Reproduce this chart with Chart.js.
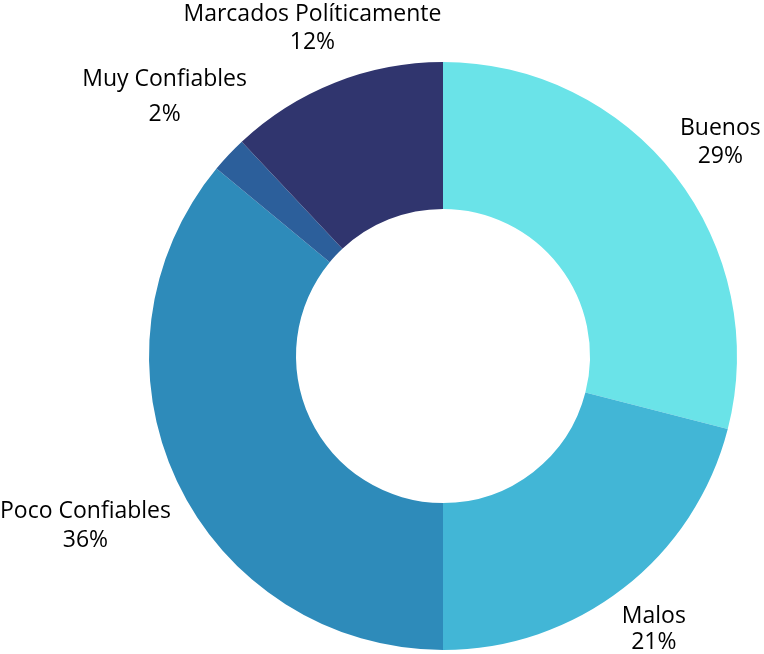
<!DOCTYPE html>
<html>
<head>
<meta charset="utf-8">
<script src="https://cdn.jsdelivr.net/npm/chart.js@4/dist/chart.umd.min.js"></script>
<style>
  html, body { margin: 0; padding: 0; background: #fff; }
  canvas { display: block; }
</style>
</head>
<body>
<canvas id="myChart" width="764" height="654"></canvas>
<script>
const categories = ['Buenos', 'Malos', 'Poco Confiables', 'Muy Confiables', 'Marcados Políticamente'];
const values = [29, 21, 36, 2, 12];
const colors = ['#6ae3e8', '#42b6d6', '#2e8bba', '#2c5f9b', '#30356e'];
// how far out each label sits, as a share of the outer radius
const labelDist = [1.194, 1.17, 1.344, 1.299, 1.206];
// half the gap between the name line and the percent line
const lineHalf = [14, 13, 14.5, 17.5, 14];

const ctx = document.getElementById('myChart').getContext('2d');

const outLabels = {
  id: 'outLabels',
  afterDatasetsDraw(chart) {
    const c = chart.ctx;
    const meta = chart.getDatasetMeta(0);
    const total = values.reduce((a, b) => a + b, 0);
    c.save();
    c.font = '23px "Open Sans"';
    c.fillStyle = '#000';
    c.textAlign = 'center';
    c.textBaseline = 'middle';
    meta.data.forEach((arc, i) => {
      const p = arc.getProps(['x', 'y', 'startAngle', 'endAngle', 'outerRadius'], true);
      const mid = (p.startAngle + p.endAngle) / 2;
      const r = p.outerRadius * labelDist[i];
      const x = p.x + Math.cos(mid) * r;
      const y = p.y + Math.sin(mid) * r + 2;
      const pct = Math.round(values[i] / total * 100) + '%';
      c.fillText(categories[i], x, y - lineHalf[i]);
      c.fillText(pct, x, y + lineHalf[i]);
    });
    c.restore();
  }
};

const data = {
  labels: categories,
  datasets: [{
    data: values,
    backgroundColor: colors,
    borderWidth: 0,
    hoverOffset: 0
  }]
};

const config = {
  type: 'doughnut',
  data,
  options: {
    responsive: false,
    animation: false,
    cutout: '50%',
    layout: {
      padding: { top: 62, bottom: 4, left: 149, right: 27 }
    },
    plugins: {
      legend: { display: false },
      tooltip: { enabled: false }
    }
  },
  plugins: [outLabels]
};

let myChart = new Chart(ctx, config);
</script>
</body>
</html>
